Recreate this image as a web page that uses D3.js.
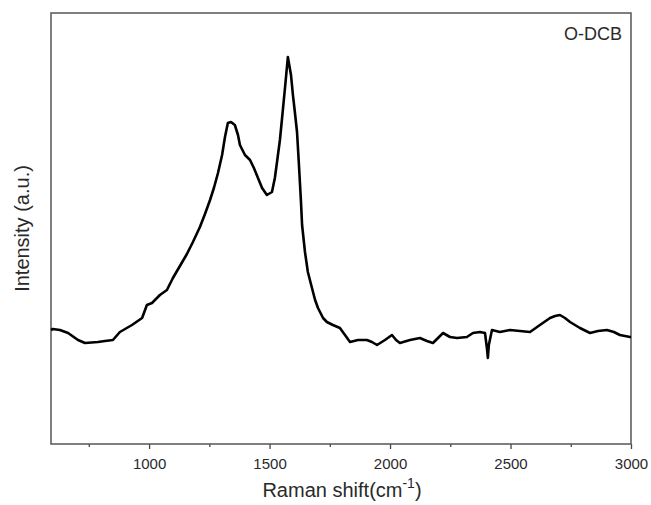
<!DOCTYPE html>
<html lang="en">
  <head>
    <meta charset="UTF-8" />
    <title>Raman spectrum O-DCB</title>
    <script src="https://d3js.org/d3.v7.min.js"></script>
    <style>
      body {
        margin: 0;
        padding: 0;
        background-color: #fff;
      }
      text {
        font-family: "Liberation Sans", Arial, sans-serif;
        fill: #2a2a2a;
      }
    </style>
  </head>
  <body>
    <div id="chart"></div>

    <script>
      const width = 651;
      const height = 505;
      const margin = { top: 13, right: 20, bottom: 61, left: 51 };

      // Raman shift (cm-1)
      const shift = [
        593, 601, 630, 664, 705, 734, 788, 817, 850, 879, 929, 971, 991, 1012, 1045, 1074, 1099, 1128, 1157, 1182,
        1211, 1232, 1253, 1269, 1286, 1303, 1315, 1327, 1340, 1356, 1369, 1377, 1398, 1419, 1435, 1452, 1469, 1489,
        1510, 1522, 1531, 1543, 1552, 1564, 1576, 1589, 1597, 1605, 1614, 1622, 1630, 1635, 1647, 1659, 1676, 1689,
        1701, 1722, 1738, 1763, 1792, 1813, 1834, 1867, 1904, 1925, 1946, 1979, 2008, 2025, 2041, 2083, 2124, 2153,
        2178, 2220, 2249, 2278, 2319, 2344, 2373, 2394, 2402, 2406, 2410, 2423, 2456, 2498, 2539, 2581, 2622, 2664,
        2685, 2705, 2726, 2747, 2788, 2830, 2863, 2900, 2929, 2954, 2996, 3000,
      ];
      // intensity (a.u.)
      const intensity = [
        114, 115, 114, 111, 104, 101, 102, 103, 104, 112, 119, 126, 139, 141, 149, 154, 166, 178, 190, 202,
        217, 230, 244, 256, 271, 289, 307, 321, 322, 319, 309, 299, 289, 284, 276, 266, 256, 249,
        252, 266, 282, 304, 326, 356, 387, 369, 349, 332, 312, 279, 244, 219, 192, 172, 156, 144,
        136, 126, 122, 119, 116, 109, 102, 104, 104, 102, 99, 104, 109, 104, 101, 104, 106, 103,
        101, 111, 107, 106, 107, 111, 112, 111, 96, 86, 99, 114, 112, 114, 113, 112, 119, 126,
        128, 129, 126, 122, 116, 111, 113, 114, 112, 109, 107, 107,
      ];
      const majorTicks = [1000, 1500, 2000, 2500, 3000];
      const minorTicks = [750, 1250, 1750, 2250, 2750];

      const data = shift.map((s, i) => ({ x: s, y: intensity[i] }));

      const svg = d3.select("#chart").append("svg").attr("width", width).attr("height", height);

      const x = d3
        .scaleLinear()
        .domain([593, 3000])
        .range([margin.left, width - margin.right]);
      const y = d3
        .scaleLinear()
        .domain([0, 431])
        .range([height - margin.bottom, margin.top]);

      const plotH = height - margin.bottom - margin.top;

      // bottom axis: major + minor ticks pointing out
      svg
        .append("g")
        .attr("transform", `translate(0,${height - margin.bottom})`)
        .call(d3.axisBottom(x).tickValues(minorTicks).tickSize(3).tickFormat(""))
        .call((g) => g.select(".domain").remove())
        .call((g) => g.selectAll("line").attr("stroke", "#444").attr("stroke-width", 1.3));

      svg
        .append("g")
        .attr("transform", `translate(0,${height - margin.bottom})`)
        .call(d3.axisBottom(x).tickValues(majorTicks).tickSize(5).tickPadding(9).tickFormat(d3.format("d")))
        .call((g) => g.select(".domain").remove())
        .call((g) => g.selectAll("line").attr("stroke", "#444").attr("stroke-width", 1.3))
        .call((g) => g.selectAll("text").attr("font-size", 15).style("fill", "#2a2a2a"));

      // frame
      svg
        .append("rect")
        .attr("x", margin.left)
        .attr("y", margin.top)
        .attr("width", width - margin.left - margin.right)
        .attr("height", plotH)
        .attr("fill", "none")
        .attr("stroke", "#555")
        .attr("stroke-width", 1.5);

      // spectrum
      const line = d3
        .line()
        .x((d) => x(d.x))
        .y((d) => y(d.y));

      svg
        .append("path")
        .datum(data)
        .attr("d", line)
        .attr("fill", "none")
        .attr("stroke", "#000")
        .attr("stroke-width", 2.6)
        .attr("stroke-linejoin", "round");

      // labels
      const xLabel = svg
        .append("text")
        .attr("x", 342)
        .attr("y", 497)
        .attr("text-anchor", "middle")
        .attr("font-size", 20);
      xLabel.append("tspan").text("Raman shift(cm");
      xLabel.append("tspan").attr("dy", -9).attr("font-size", 14).text("-1");
      xLabel.append("tspan").attr("dy", 9).text(")");

      svg
        .append("text")
        .attr("transform", `translate(29,${margin.top + plotH / 2}) rotate(-90)`)
        .attr("text-anchor", "middle")
        .attr("font-size", 20)
        .text("Intensity (a.u.)");

      svg
        .append("text")
        .attr("x", 622)
        .attr("y", 40)
        .attr("text-anchor", "end")
        .attr("font-size", 18)
        .text("O-DCB");
    </script>
  </body>
</html>
